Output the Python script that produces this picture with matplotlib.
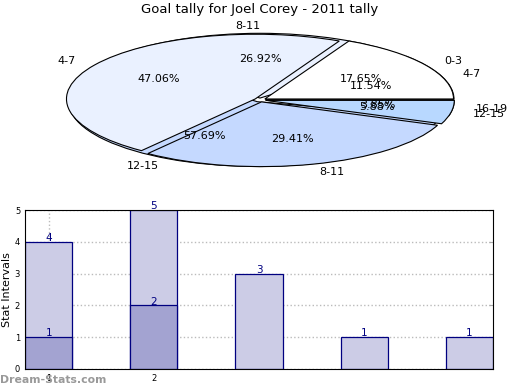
import matplotlib
matplotlib.use("Agg")
import matplotlib.pyplot as plt
from matplotlib.patches import Shadow

# pie data (two tallies drawn on top of each other)
pie_labels_a = ['0-3', '4-7', '8-11', '12-15']
pie_counts_a = [3, 8, 5, 1]
pie_labels_b = ['4-7', '8-11', '12-15', '16-19']
pie_counts_b = [3, 7, 15, 1]
pie_colors = ['#ffffff', '#eaf1ff', '#c5d9ff', '#b8d8ff']

# bar data
bar_pos = [1, 2, 3, 4, 5]
bar_back = [4, 5, 3, 1, 1]
bar_front = [1, 2, 0, 0, 0]

fig = plt.figure(figsize=(5.2, 3.9), dpi=100)
fig.text(0.5, 0.975, "Goal tally for Joel Corey - 2011 tally", ha='center', va='center', fontsize=9.5)

#pie axes
ax1 = fig.add_axes([26/520, 1 - 179/390, 468/520, 158/390])
wp = dict(edgecolor='black', linewidth=0.8)
shadow = {'ox': -3, 'oy': -2.5, 'shade': 0.6}
ax1.pie(pie_counts_b, labels=pie_labels_b, colors=pie_colors, autopct='%1.2f%%',
        startangle=0, explode=[0.03]*4, labeldistance=1.12, pctdistance=0.6,
        shadow=shadow, wedgeprops=wp, textprops={'fontsize': 8})
ax1.pie(pie_counts_a, labels=pie_labels_a, colors=pie_colors, autopct='%1.2f%%',
        startangle=0, explode=[0.03]*4, labeldistance=1.12, pctdistance=0.6,
        shadow=shadow, wedgeprops=wp, textprops={'fontsize': 8})
#push all shadows below both pies
for p in ax1.patches:
    if isinstance(p, Shadow):
        p.set_zorder(0.5)
ax1.set_aspect('auto')
ax1.set_xlim(-1.24, 1.24)
ax1.set_ylim(-1.22, 1.22)
ax1.axis('off')

#bar axes
ax2 = fig.add_axes([25/520, 1 - 369/390, 468/520, 159/390])
ax2.bar(bar_pos, bar_back, width=0.45, color='#cccce6', edgecolor='#000080', linewidth=0.9)
for x, v in zip(bar_pos, bar_front):
    if v > 0:
        ax2.bar(x, v, width=0.45, color='#a3a3d1', edgecolor='#000080', linewidth=0.9)
for x, v in zip(bar_pos, bar_back):
    ax2.text(x, v + 0.12, str(v), ha='center', va='center', color='#000080', fontsize=7.5)
for x, v in zip(bar_pos, bar_front):
    if v > 0:
        ax2.text(x, v + 0.12, str(v), ha='center', va='center', color='#000080', fontsize=7.5)

ax2.set_xlim(0.775, 5.225)
ax2.set_ylim(0, 5)
ax2.set_xticks([1, 2])
ax2.set_yticks([0, 1, 2, 3, 4, 5])
ax2.tick_params(labelsize=6, direction='in', color='#aaaaaa', right=True, top=False, length=3)
ax2.grid(color='#bbbbbb', linestyle=':', linewidth=1)
ax2.set_axisbelow(True)
ax2.set_ylabel("Stat Intervals", fontsize=8, labelpad=2)
ax2.set_xlabel("Frequency", fontsize=8, labelpad=8)

fig.text(0.0, 1 - 380/390, "Dream-Stats.com", color='#999999', fontsize=7.8, fontweight='bold',
         ha='left', va='center')

fig.savefig("out.png", dpi=100)
